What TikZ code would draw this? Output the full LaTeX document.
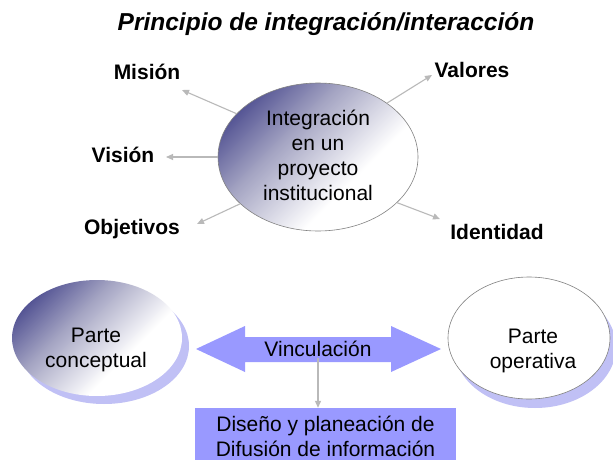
\documentclass[tikz,border=0pt]{standalone}
\usepackage{fontspec}
\setmainfont{Liberation Sans}
\usetikzlibrary{shapes.geometric,arrows.meta}
\definecolor{darkc}{RGB}{62,62,135}
\definecolor{midc}{RGB}{165,165,195}
\definecolor{lav}{RGB}{192,192,245}
\definecolor{peri}{RGB}{153,153,255}
\definecolor{arrg}{RGB}{185,185,185}
\definecolor{edgeg}{RGB}{130,130,130}
\pgfdeclareverticalshading{ballg}{100bp}{color(0bp)=(white); color(38bp)=(white); color(60bp)=(midc); color(80bp)=(darkc); color(100bp)=(darkc)}
\tikzset{
  bodytext/.style={font=\fontsize{21}{25}\selectfont, align=center},
  lbl/.style={font=\fontsize{21}{25}\selectfont\bfseries},
  grad/.style={ellipse, shading=ballg, shading angle=45, inner sep=0pt},
  shadowell/.style={ellipse, fill=lav, inner sep=0pt},
  conn/.style={draw=arrg, line width=1.1pt, -{Triangle[width=6pt,length=7pt]}},
}
\begin{document}
\begin{tikzpicture}[x=1pt,y=-1pt]
\useasboundingbox[fill=white] (0,0) rectangle (613,460);

% title
\node[font=\fontsize{24.5}{29}\selectfont\bfseries\itshape] (title) at (326,24) {Principio de integración/interacción};

% central ellipse
\node[grad, draw=edgeg, line width=0.6pt, minimum width=200, minimum height=148] (c) at (318,157) {};
\node[bodytext] (ctext) at (318,155) {Integración\\en un\\proyecto\\institucional};

% labels
\node[lbl] (mision) at (147,72) {Misión};
\node[lbl] (vision) at (123,155) {Visión};
\node[lbl] (obj) at (132,229) {Objetivos};
\node[lbl] (valores) at (472,70) {Valores};
\node[lbl] (ident) at (497,232) {Identidad};

\coordinate (hm) at (182,90);
\coordinate (hv) at (166,157);
\coordinate (ho) at (197,224);
\coordinate (hva) at (432,75);
\coordinate (hi) at (440,219);

\draw[conn] (c.152) -- (hm);
\draw[conn] (c.180) -- (hv);
\draw[conn] (c.211) -- (ho);
\draw[conn] (c.38) -- (hva);
\draw[conn] (c.330) -- (hi);

% left ellipse
\node[shadowell, minimum width=170, minimum height=116] (lsh) at (104,346) {};
\node[grad, minimum width=170, minimum height=116] (l) at (97,338) {};
\node[bodytext] (ltext) at (96,350) {Parte\\conceptual};

% right ellipse
\node[shadowell, minimum width=162, minimum height=122] (rsh) at (535,347) {};
\node[ellipse, fill=white, draw=edgeg, line width=0.6pt, inner sep=0pt, minimum width=162, minimum height=122] (r) at (529,338) {};
\node[bodytext] (rtext) at (533,351) {Parte\\operativa};

% double arrow
\fill[peri] (196,349) -- (245,326) -- (245,337) -- (391,337) -- (391,326) -- (441,349)
  -- (391,372) -- (391,362) -- (245,362) -- (245,372) -- cycle;
\node[bodytext, inner sep=1pt] (vinc) at (318,349) {Vinculación};

% box
\node[bodytext, fill=peri, minimum width=261, minimum height=56, inner sep=0pt] (box) at (325.5,436) {Diseño y planeación de\\Difusión de información};

\draw[conn] (vinc.south) -- (vinc.south |- box.north);
\end{tikzpicture}
\end{document}
